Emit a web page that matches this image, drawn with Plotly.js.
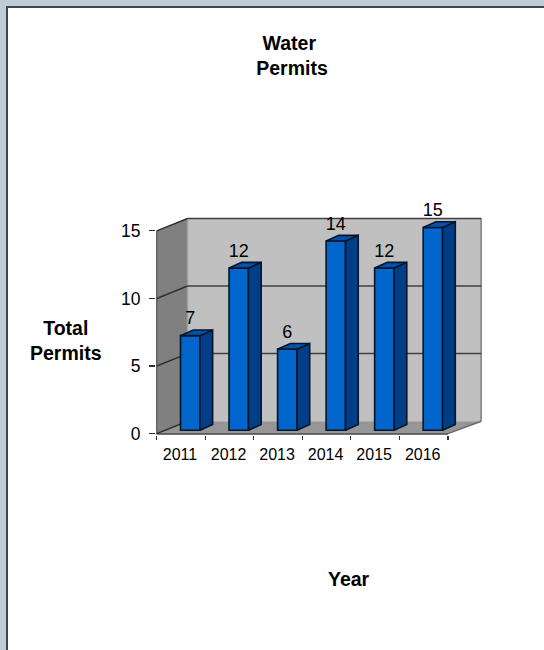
<!DOCTYPE html>
<html>
<head>
<meta charset="utf-8">
<script src="https://cdn.plot.ly/plotly-3.0.1.min.js"></script>
<style>
html,body{margin:0;padding:0;width:544px;height:650px;overflow:hidden;background:#c0ccd3;}
#sheet{position:absolute;left:6px;top:6px;width:538px;height:644px;background:#fff;border-left:2px solid #3c444c;border-top:2px solid #3c444c;box-sizing:border-box;}
#chart{position:absolute;left:0;top:0;width:544px;height:650px;}
</style>
</head>
<body>
<div id="sheet"></div>
<div id="chart"></div>
<script>
const years = ['2011','2012','2013','2014','2015','2016'];
const permits = [7,12,6,14,12,15];
const yTicks = [0,5,10,15];

const titleText = 'Water&nbsp;<br>Permits';
const yTitleText = 'Total<br>Permits';
const xTitleText = 'Year';

const font = 'Liberation Sans, Arial, sans-serif';
const wallDxLeft = 0.635, wallDxRight = 0.687, wallDy = 0.92;   // chart-box depth
const barDx = 0.262, barDy = 0.42;     // bar depth
const barBase = 0.25, barWidth = 0.4, barOffset = -0.01;
const xMin = -0.5, xMax = xMin + years.length;
const yMax = 15;

const idx = years.map((_, i) => i);
const barLeft = i => i + barOffset;
const barRight = i => i + barOffset + barWidth;
const barTop = v => v + barBase;

// side and top faces of each bar, worked out from the values
const sideX = [], sideY = [], capX = [], capY = [];
permits.forEach((v, i) => {
  const l = barLeft(i), r = barRight(i), t = barTop(v);
  sideX.push(r, r + barDx, r + barDx, r, r, null);
  sideY.push(barBase, barBase + barDy, t + barDy, t, barBase, null);
  capX.push(l, l + barDx, r + barDx, r, l, null);
  capY.push(t, t + barDy, t + barDy, t, t, null);
});

const edge = {color: '#061428', width: 1.6};
const traces = [
  {type:'bar', x: idx, y: permits, base: barBase, width: barWidth, offset: barOffset,
   marker:{color:'#0066cc', line:{color:edge.color, width:edge.width}}, hoverinfo:'skip', showlegend:false},
  {type:'scatter', mode:'lines', x: sideX, y: sideY, fill:'toself', fillcolor:'#003f87',
   line:edge, hoverinfo:'skip', showlegend:false},
  {type:'scatter', mode:'lines', x: capX, y: capY, fill:'toself', fillcolor:'#0052ad',
   line:edge, hoverinfo:'skip', showlegend:false},
  {type:'scatter', mode:'text', x: idx.map(i => i + barOffset + barWidth/2), y: permits.map(v => barTop(v) + 0.5),
   text: permits.map(String), textposition:'top center', cliponaxis:false,
   textfont:{family:font, size:18, color:'#000'}, hoverinfo:'skip', showlegend:false}
];

const poly = pts => 'M' + pts.map(p => p.join(',')).join('L') + 'Z';
const rightX = xMax + wallDxRight;
const leftBack = xMin + wallDxLeft;
const shapes = [
  {type:'path', layer:'below', path: poly([[leftBack,wallDy],[rightX,wallDy],[rightX,yMax+wallDy],[leftBack,yMax+wallDy]]), fillcolor:'#c0c0c0', line:{width:0}},
  {type:'path', layer:'below', path: poly([[xMin,0],[leftBack,wallDy],[leftBack,yMax+wallDy],[xMin,yMax]]), fillcolor:'#808080', line:{width:0}},
  {type:'path', layer:'below', path: poly([[xMin,0],[xMax,0],[rightX,wallDy],[leftBack,wallDy]]), fillcolor:'#969696', line:{width:0}},
  {type:'line', layer:'below', x0:rightX, x1:rightX, y0:wallDy, y1:yMax+wallDy, line:{color:'#8c8c8c', width:2}},
  {type:'line', layer:'below', x0:xMax, x1:rightX, y0:0, y1:wallDy, line:{color:'#6a6a6a', width:1.5}},
  {type:'line', layer:'below', x0:leftBack, x1:leftBack, y0:wallDy, y1:yMax+wallDy, line:{color:'#a0a0a0', width:1.5}}
];
yTicks.filter(v => v > 0).forEach(v => {
  shapes.push({type:'line', layer:'below', x0:xMin, x1:leftBack, y0:v, y1:v+wallDy, line:{color:'#303030', width:1.5}});
  shapes.push({type:'line', layer:'below', x0:leftBack, x1:rightX, y0:v+wallDy, y1:v+wallDy, line:{color:'#404040', width:1.5}});
});
shapes.push({type:'line', layer:'below', x0:xMin, x1:leftBack, y0:0, y1:wallDy, line:{color:'#303030', width:1.5}});
shapes.push({type:'line', layer:'below', x0:xMin, x1:xMax, y0:-0.03, y1:-0.03, line:{color:'#404040', width:1.5}});
shapes.push({type:'line', layer:'below', x0:xMin, x1:xMin, y0:0, y1:yMax, line:{color:'#404040', width:1}});

const layout = {
  width:544, height:650,
  margin:{l:156, r:544-482, t:216, b:215},
  paper_bgcolor:'rgba(0,0,0,0)', plot_bgcolor:'rgba(0,0,0,0)',
  showlegend:false, bargap:0,
  font:{family:font, color:'#000'},
  title:{text:'<b>'+titleText+'</b>', x:292/544, xanchor:'center', y:1-50/650, yanchor:'top', font:{family:font, size:19.5, color:'#000'}},
  xaxis:{type:'linear', range:[xMin-0.015, rightX+0.015], tickmode:'array', tickvals:idx.map(i => i - 0.02), ticktext:years,
    ticks:'', showgrid:false, zeroline:false, showline:false, fixedrange:true, ticklabelstandoff:8,
    tickfont:{family:font, size:16, color:'#000'},
    minor:{tickmode:'array', tickvals:years.map((_, i) => i - 0.5).concat([xMax]), ticks:'outside', ticklen:4, tickwidth:1.2, tickcolor:'#303030', showgrid:false}},
  yaxis:{range:[-0.1, 16.1], tickmode:'array', tickvals:yTicks, ticktext:yTicks.map(String),
    ticks:'outside', ticklen:6, tickwidth:1.2, tickcolor:'#303030', showgrid:false, zeroline:false, showline:false, fixedrange:true, ticklabelstandoff:5,
    tickfont:{family:font, size:17.5, color:'#000'}},
  shapes: shapes,
  annotations:[
    {xref:'paper', yref:'paper', x:(65.5-156)/326, y:(650-215-340)/219, xanchor:'center', yanchor:'middle', text:'<b>'+yTitleText+'</b>', showarrow:false, font:{family:font, size:19.5, color:'#000'}, align:'center'},
    {xref:'paper', yref:'paper', x:(349-156)/326, y:(650-215-579)/219, xanchor:'center', yanchor:'middle', text:'<b>'+xTitleText+'</b>', showarrow:false, font:{family:font, size:19.5, color:'#000'}, align:'center'}
  ]
};
Plotly.newPlot('chart', traces, layout, {displayModeBar:false, staticPlot:true});
</script>
</body>
</html>
